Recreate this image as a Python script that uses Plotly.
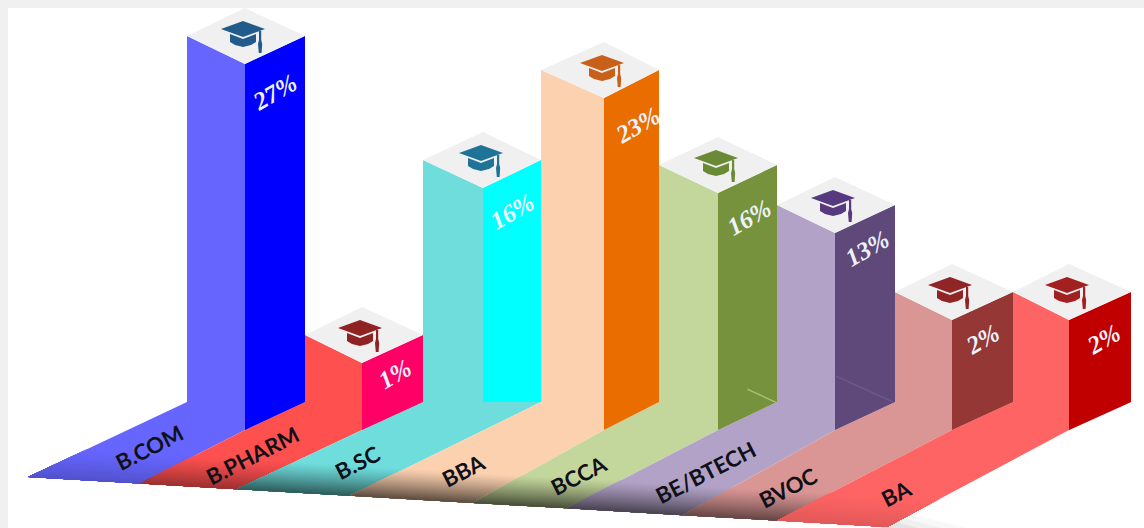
import plotly.graph_objects as go

# ---- data ----
categories = ["B.COM", "B.PHARM", "B.SC", "BBA", "BCCA", "BE/BTECH", "BVOC", "BA"]
percent_values = [27, 1, 16, 23, 16, 13, 2, 2]
# column heights as drawn (the picture's own, non-linear scale), front edge
column_heights = [366, 67, 242, 332, 237, 197, 110, 110]

# ---- styles ----
left_colors = ["#6666ff", "#ff5050", "#70dddd", "#fcd1b0", "#c3d69b", "#b2a2c7", "#d99694", "#ff6464"]
right_colors = ["#0000ff", "#ff0066", "#00ffff", "#ea6d00", "#76923c", "#5f497a", "#953735", "#c00000"]
cap_colors = ["#215b8c", "#8f2222", "#1f7396", "#c8601a", "#6b8a35", "#57397f", "#8f2525", "#a32020"]
shade_strength = [0.2, 0.4, 0.6, 0.65, 0.65, 0.6, 0.55, 0.12]
flat_base = [False, False, True, False, False, False, False, False]

# ---- projection constants ----
BASE_Y = 430.0
BACK_Y = 402.0
RISE = 28.0
LEFT0, STEP = 187.0, 118.0
front_offset = [58, 57, 60, 63, 59, 58, 57, 56]
floor_edges = [28, 140, 237, 350, 473, 567, 683, 777, 887]
label_spot = [(149, 447), (252, 455), (357, 462), (463, 470), (578, 475), (705, 472), (788, 487), (896, 493)]
pct_spot = [(274, 92), (394, 374), (512, 211), (637, 125), (749, 217), (867, 248), (982, 339), (1103, 339)]


def floor_y(x):
    return 477 + (x - 28) * 50.0 / 859.0


def mix(hex_color, a):
    r, g, b = (int(hex_color[k:k + 2], 16) for k in (1, 3, 5))
    f = 1 - a
    return f"rgb({r * f:.0f},{g * f:.0f},{b * f:.0f})"


def poly(points, color):
    xs = [p[0] for p in points] + [points[0][0]]
    ys = [p[1] for p in points] + [points[0][1]]
    return go.Scatter(x=xs, y=ys, mode="none", fill="toself", fillcolor=color,
                      hoverinfo="skip", showlegend=False)


def along(bottom, top, d):
    s = d / (bottom[1] - top[1])
    return (bottom[0] + (top[0] - bottom[0]) * s, bottom[1] + (top[1] - bottom[1]) * s)


fig = go.Figure()

# soft shadow outside the last strip
for d, c in [(46, "#f8f8f8"), (32, "#f0f0f0"), (18, "#e4e4e4")]:
    x0 = floor_edges[-1]
    fig.add_trace(poly([(x0 - 6, 528), (x0 + d * 1.7, 528), (x0 + 4, 528 - d * 0.4)], c))

tops = []
for i, h in enumerate(column_heights):
    L = LEFT0 + STEP * i
    F = L + front_offset[i]
    R = L + STEP
    yf = BASE_Y - h
    tops.append((L, F, R, yf))
    e0 = (floor_edges[i], floor_y(floor_edges[i]))
    e1 = (floor_edges[i + 1], floor_y(floor_edges[i + 1]))
    right_anchor = (R, BACK_Y) if flat_base[i] else (F, BASE_Y)
    if i == 0:
        left_anchor = (L, BACK_Y)
    else:
        prev_F = LEFT0 + STEP * (i - 1) + front_offset[i - 1]
        left_anchor = (L, BACK_Y) if flat_base[i - 1] else (prev_F, BASE_Y)
    wall = [(L, yf - RISE), (F, yf), (R, yf - RISE), (R, BACK_Y), right_anchor, e1, e0, left_anchor, (L, BACK_Y)]
    fig.add_trace(poly(wall, left_colors[i]))
    # nested shading bands toward the front edge of the floor
    D = 28
    for d in range(D, 0, -1):
        a = shade_strength[i] * (1 - d / D) ** 1.2
        pts = [along(e0, left_anchor, d), along(e1, right_anchor, d), e1, e0]
        fig.add_trace(poly(pts, mix(left_colors[i], a)))

for i, (L, F, R, yf) in enumerate(tops):
    bottom_front = BACK_Y if flat_base[i] else BASE_Y
    fig.add_trace(poly([(F, yf), (R, yf - RISE), (R, BACK_Y), (F, bottom_front)], right_colors[i]))
    fig.add_trace(poly([(L, yf - RISE), (F, yf), (R, yf - RISE), (F, yf - 2 * RISE)], "#f0f0f1"))
    # mortar-board icon, relative to the centre of the top face
    cx, cy = F, yf - RISE
    c = cap_colors[i]
    rel = lambda pts: [(cx + a, cy + b) for a, b in pts]
    fig.add_trace(poly(rel([(-24, -7), (-2, -15), (20, -7), (-2, 1)]), c))
    fig.add_trace(poly(rel([(-15, -2), (-2, 3), (11, -2), (11, 6), (6, 9), (-2, 11), (-10, 9), (-15, 6)]), c))
    fig.add_trace(poly(rel([(14, -5), (16.2, -5), (16.2, 4), (17.2, 8), (16.6, 17), (13.8, 17), (13, 8), (14, 4)]), c))

# faint reflections on a few faces
for i, tint, (a, b) in [(4, "#a9c27a", (0.50, 0.98)), (5, "#6d5a8a", (0.02, 0.95))]:
    L, F, R, yf = tops[i]
    w = R - F
    fig.add_trace(poly([(F + a * w, 402 - (1 - a) * 27), (F + b * w, 402 - (1 - b) * 27),
                        (F + b * w, 403.5 - (1 - b) * 27), (F + a * w, 403.5 - (1 - a) * 27)], tint))

annotations = []
for name, (x, y) in zip(categories, label_spot):
    annotations.append(dict(x=x, y=y, xref="x", yref="y", text=f"<b>{name}</b>", showarrow=False,
                            textangle=-27, font=dict(family="Lato", size=22, color="#101018")))
for v, (x, y) in zip(percent_values, pct_spot):
    annotations.append(dict(x=x, y=y, xref="x", yref="y", text=f"<b><i>{v}%</i></b>", showarrow=False,
                            textangle=-30, font=dict(family="Liberation Serif", size=25, color="#eef2fb")))

fig.update_layout(
    width=1144, height=528, margin=dict(l=0, r=0, t=0, b=0),
    paper_bgcolor="#f0f0f0", plot_bgcolor="#ffffff", showlegend=False,
    xaxis=dict(range=[0, 1144], visible=False, fixedrange=True),
    yaxis=dict(range=[528, 0], visible=False, fixedrange=True),
    annotations=annotations,
    shapes=[
        dict(type="rect", xref="x", yref="y", x0=0, x1=1144, y0=0, y1=528, fillcolor="#f0f0f0",
             line_width=0, layer="below"),
        dict(type="rect", xref="x", yref="y", x0=8, x1=1144, y0=8, y1=528, fillcolor="#ffffff",
             line_width=0, layer="below"),
    ],
)

fig.write_html("out.html", config={"displayModeBar": False},
               post_script="document.body.style.margin='0';document.body.style.overflow='hidden';")
